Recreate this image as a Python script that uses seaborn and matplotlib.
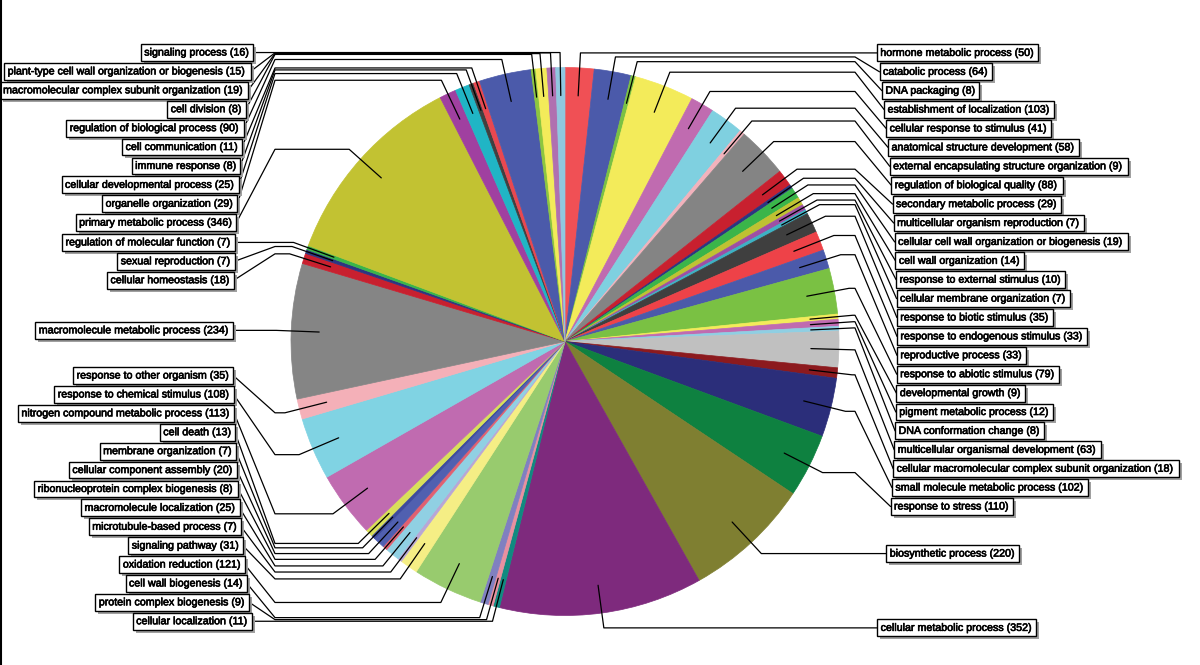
import numpy as np
import matplotlib
matplotlib.use("Agg")
import matplotlib.pyplot as plt
import matplotlib.patheffects as pe
from matplotlib.patches import Rectangle
import seaborn as sns

# GO terms in clockwise order, starting at 12 o'clock
terms = [
    "hormone metabolic process", "catabolic process", "DNA packaging",
    "establishment of localization", "cellular response to stimulus",
    "anatomical structure development", "external encapsulating structure organization",
    "regulation of biological quality", "secondary metabolic process",
    "multicellular organism reproduction", "cellular cell wall organization or biogenesis",
    "cell wall organization", "response to external stimulus",
    "cellular membrane organization", "response to biotic stimulus",
    "response to endogenous stimulus", "reproductive process",
    "response to abiotic stimulus", "developmental growth", "pigment metabolic process",
    "DNA conformation change", "multicellular organismal development",
    "cellular macromolecular complex subunit organization",
    "small molecule metabolic process", "response to stress", "biosynthetic process",
    "cellular metabolic process", "cellular localization", "protein complex biogenesis",
    "cell wall biogenesis", "oxidation reduction", "signaling pathway",
    "microtubule-based process", "macromolecule localization",
    "ribonucleoprotein complex biogenesis", "cellular component assembly",
    "membrane organization", "cell death", "nitrogen compound metabolic process",
    "response to chemical stimulus", "response to other organism",
    "macromolecule metabolic process", "cellular homeostasis", "sexual reproduction",
    "regulation of molecular function", "primary metabolic process",
    "organelle organization", "cellular developmental process", "immune response",
    "cell communication", "regulation of biological process", "cell division",
    "macromolecular complex subunit organization",
    "plant-type cell wall organization or biogenesis", "signaling process",
]
counts = [
    50, 64, 8, 103, 41, 58, 9, 88, 29, 7, 19, 14, 10, 7, 35, 33, 33, 79, 9, 12,
    8, 63, 18, 102, 110, 220, 352, 11, 9, 14, 121, 31, 7, 25, 8, 20, 7, 13, 113,
    108, 35, 234, 18, 7, 7, 346, 29, 25, 8, 11, 90, 8, 19, 15, 16,
]
slice_colors = [
    "#F05055", "#4B5AAA", "#7AC143", "#F3EB5A", "#C06BB0", "#7FD0E0", "#F2B2BC",
    "#848484", "#C8202F", "#2C3582", "#3AB54A", "#BFC232", "#9E4FA5", "#3DB2C4",
    "#3F3F3F", "#EE4248", "#4B5AAA", "#7AC143", "#F3EB5A", "#C06BB0", "#8FCFE3",
    "#C0C0C0", "#8C1A1E", "#2B2E7A", "#0E8140", "#7F7F31", "#7E2A7D", "#108A80",
    "#E890A0", "#8080C0", "#98CB6E", "#F5EE85", "#B8A6D6", "#90D0E3", "#E06070",
    "#5060B0", "#3C4A9E", "#D9E05A", "#C06BB0", "#80D3E3", "#F4B0B8", "#858585",
    "#C8202F", "#2C3582", "#3AB54A", "#C2C232", "#A040A0", "#20B5C5", "#404040",
    "#E84850", "#4B5AAA", "#8CC63F", "#F3EB5A", "#B070B0", "#90C8E0",
]

# layout in pixels (y measured downward)
W, H = 1200, 665
CX, CY = 565, 341.5
R = 274
R_ANCHOR = 246
R_ELBOW = 289
LINK_X = 290
GAP = 18.9
LABEL_A, LABEL_B = 332, 842
FS = 7.7
PAD = 0.32

sns.set_theme(style="white")
plt.rcParams["font.family"] = ["Liberation Sans", "DejaVu Sans"]

fig = plt.figure(figsize=(12, 6.65), dpi=100)
ax = fig.add_axes([0, 0, 1, 1])

wedges, _ = ax.pie(counts, colors=sns.color_palette(slice_colors), startangle=90,
                   counterclock=False, center=(CX, H - CY), radius=R,
                   wedgeprops=dict(linewidth=0.5))
for w in wedges:
    w.set_edgecolor(w.get_facecolor())
ax.set_xlim(0, W)
ax.set_ylim(0, H)
ax.axis("off")

vals = np.array(counts, dtype=float)
mid = (np.cumsum(vals) - vals / 2) / vals.sum()
theta = 2 * np.pi * mid
sx, sy = np.sin(theta), -np.cos(theta)
anc_x, anc_y = CX + R_ANCHOR * sx, CY + R_ANCHOR * sy
elb_x, elb_y = CX + R_ELBOW * sx, CY + R_ELBOW * sy

# spread labels on each side so they don't overlap
label_y = elb_y.copy()
for side in (sx > 0, sx <= 0):
    idx = np.where(side)[0]
    idx = idx[np.argsort(elb_y[idx])]
    ys = elb_y[idx].copy()
    for i in range(1, len(ys)):
        ys[i] = max(ys[i], ys[i - 1] + GAP)
    ys[-1] = min(ys[-1], elb_y[idx].max())
    for i in range(len(ys) - 2, -1, -1):
        ys[i] = min(ys[i], ys[i + 1] - GAP)
    label_y[idx] = ys

pad_px = PAD * FS * 100 / 72
label_texts = []

for i, (term, n) in enumerate(zip(terms, counts)):
    right = sx[i] > 0
    off = LABEL_A * np.sqrt(1 - ((label_y[i] - CY) / LABEL_B) ** 2)
    edge_x = CX + off if right else CX - off
    link_x = CX + LINK_X if right else CX - LINK_X
    xs = [anc_x[i], elb_x[i], link_x, edge_x]
    ys = [anc_y[i], elb_y[i], elb_y[i], label_y[i]]
    ax.plot(xs, [H - y for y in ys], color="black", lw=0.9, zorder=3)

    tx = edge_x + pad_px if right else edge_x - pad_px
    t = ax.text(tx, H - label_y[i], f"{term} ({n})", ha="left" if right else "right",
                va="center", fontsize=FS, color="black", zorder=5,
                path_effects=[pe.withStroke(linewidth=0.45, foreground="black")],
                bbox=dict(boxstyle=f"square,pad={PAD}", fc="white", ec="black", lw=1.0))
    label_texts.append(t)

# drop shadows behind the label boxes (data units == pixels here)
fig.canvas.draw()
for t in label_texts:
    bb = t.get_bbox_patch().get_window_extent()
    ax.add_patch(Rectangle((bb.x0 + 3, bb.y0 - 3), bb.width, bb.height,
                           fc="#a0a0a0", ec="none", zorder=4))

ax.plot([1, 1], [0, H], color="black", lw=1.5, zorder=6)

fig.savefig("out.png", dpi=100, facecolor="white")
